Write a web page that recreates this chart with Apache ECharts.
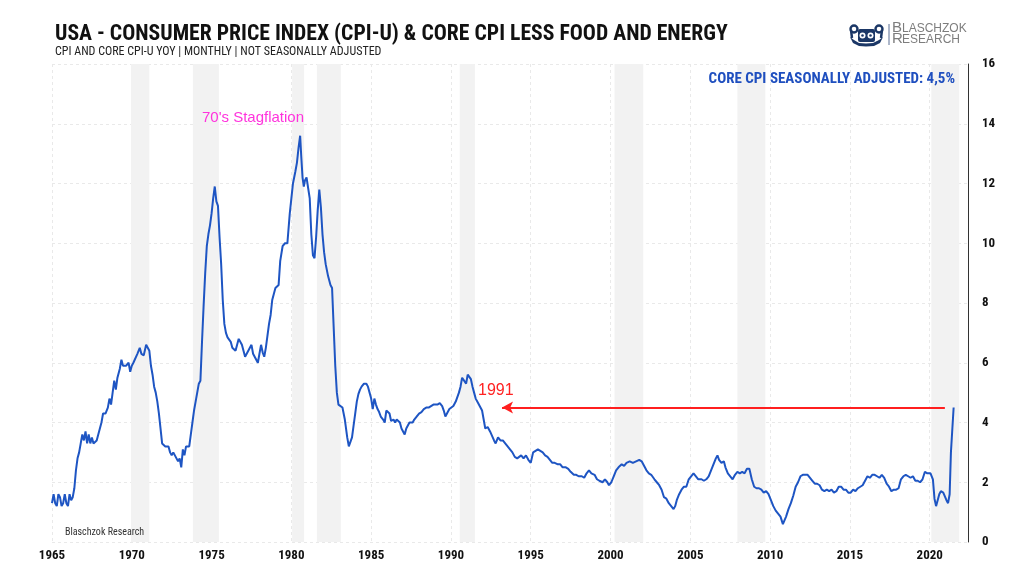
<!DOCTYPE html>
<html><head><meta charset="utf-8">
<script src="https://cdn.jsdelivr.net/npm/echarts/dist/echarts.min.js"></script>
<style>html,body{margin:0;padding:0;background:#fff}#c{width:1024px;height:576px}</style>
</head><body><div id="c"></div>
<script>
// ---- data ----
const years = [
1965.0,1965.1,1965.2,1965.3,1965.4,1965.5,1965.6,1965.7,1965.8,1965.9,
1966.0,1966.1,1966.2,1966.3,1966.4,1966.5,1966.6,1966.7,1966.8,1966.9,
1967.0,1967.1,1967.2,1967.3,1967.4,1967.5,1967.6,1967.7,1967.8,1967.9,
1968.0,1968.1,1968.2,1968.35,1968.5,1968.6,1968.7,1968.8,1968.9,
1969.0,1969.1,1969.25,1969.35,1969.45,1969.55,1969.65,1969.8,1969.9,
1970.0,1970.1,1970.2,1970.35,1970.5,1970.6,1970.75,1970.9,
1971.0,1971.1,1971.2,1971.3,1971.4,1971.5,1971.6,1971.7,1971.8,1971.9,
1972.0,1972.1,1972.2,1972.3,1972.4,1972.5,1972.6,1972.7,1972.8,1972.9,
1973.0,1973.1,1973.2,1973.3,1973.4,1973.5,1973.6,1973.7,1973.8,1973.9,
1974.0,1974.1,1974.2,1974.3,1974.4,1974.5,1974.6,1974.7,1974.8,1974.9,
1975.0,1975.1,1975.2,1975.3,1975.4,1975.5,1975.6,1975.7,1975.8,1975.9,
1976.0,1976.1,1976.2,1976.3,1976.4,1976.5,1976.6,1976.7,1976.8,1976.9,
1977.0,1977.1,1977.2,1977.3,1977.4,1977.5,1977.6,1977.7,1977.8,1977.9,
1978.0,1978.1,1978.2,1978.3,1978.4,1978.5,1978.6,1978.7,1978.8,1978.9,
1979.0,1979.1,1979.2,1979.3,1979.45,1979.6,1979.75,1979.9,
1980.0,1980.1,1980.25,1980.35,1980.45,1980.55,1980.62,1980.7,1980.78,1980.85,1980.95,
1981.05,1981.15,1981.25,1981.35,1981.45,1981.55,1981.65,1981.75,1981.85,1981.95,
1982.05,1982.15,1982.3,1982.45,1982.55,1982.65,1982.75,1982.85,1982.95,
1983.05,1983.2,1983.35,1983.5,1983.6,1983.7,1983.8,1983.9,
1984.0,1984.1,1984.2,1984.3,1984.4,1984.55,1984.7,1984.8,1984.9,
1985.0,1985.1,1985.2,1985.3,1985.4,1985.5,1985.6,1985.75,1985.85,1985.95,
1986.05,1986.15,1986.25,1986.4,1986.5,1986.6,1986.7,1986.8,1986.9,
1987.0,1987.1,1987.2,1987.3,1987.4,1987.5,1987.6,1987.7,1987.85,
1988.0,1988.15,1988.3,1988.45,1988.6,1988.75,1988.9,
1989.0,1989.15,1989.3,1989.45,1989.55,1989.65,1989.75,1989.9,
1990.0,1990.15,1990.3,1990.4,1990.5,1990.6,1990.7,1990.8,1990.95,
1991.05,1991.15,1991.25,1991.35,1991.45,1991.55,1991.7,1991.85,1991.95,
1992.05,1992.15,1992.3,1992.45,1992.55,1992.7,1992.8,1992.95,
1993.1,1993.25,1993.4,1993.55,1993.7,1993.85,
1994.0,1994.15,1994.25,1994.4,1994.55,1994.7,1994.85,
1995.0,1995.15,1995.3,1995.45,1995.6,1995.75,1995.9,
1996.05,1996.2,1996.35,1996.5,1996.7,1996.85,
1997.0,1997.2,1997.35,1997.5,1997.7,1997.85,
1998.0,1998.2,1998.35,1998.5,1998.65,1998.8,
1999.0,1999.15,1999.3,1999.5,1999.65,1999.8,1999.9,
2000.05,2000.2,2000.35,2000.5,2000.7,2000.85,
2001.0,2001.2,2001.4,2001.6,2001.8,2001.95,
2002.1,2002.25,2002.4,2002.55,2002.75,2002.9,
2003.05,2003.2,2003.35,2003.5,2003.65,2003.8,2003.95,
2004.05,2004.15,2004.3,2004.45,2004.6,2004.75,2004.9,
2005.05,2005.2,2005.35,2005.5,2005.7,2005.85,
2006.0,2006.15,2006.3,2006.45,2006.6,2006.7,2006.8,2006.95,
2007.1,2007.2,2007.35,2007.5,2007.65,2007.8,2007.95,
2008.1,2008.25,2008.4,2008.55,2008.7,2008.85,
2009.0,2009.15,2009.3,2009.45,2009.6,2009.75,2009.9,
2010.05,2010.2,2010.35,2010.5,2010.65,2010.8,2010.9,
2011.0,2011.15,2011.3,2011.45,2011.6,2011.75,2011.9,
2012.05,2012.2,2012.35,2012.5,2012.65,2012.8,2012.95,
2013.1,2013.25,2013.4,2013.55,2013.7,2013.85,
2014.0,2014.15,2014.3,2014.45,2014.6,2014.75,2014.9,
2015.05,2015.2,2015.35,2015.5,2015.65,2015.8,2015.95,
2016.1,2016.25,2016.4,2016.55,2016.7,2016.85,
2017.0,2017.15,2017.3,2017.45,2017.6,2017.75,2017.9,
2018.05,2018.2,2018.35,2018.5,2018.65,2018.8,2018.95,
2019.1,2019.25,2019.4,2019.55,2019.7,2019.85,2019.95,
2020.05,2020.2,2020.3,2020.4,2020.5,2020.6,2020.7,2020.85,2020.95,
2021.05,2021.15,2021.25,2021.33,2021.42,2021.5
];
const coreCpi = [
1.3,1.6,1.3,1.2,1.6,1.5,1.2,1.3,1.6,1.3,
1.2,1.6,1.4,1.5,1.8,2.4,2.8,3.0,3.3,3.6,
3.4,3.7,3.3,3.6,3.3,3.5,3.3,3.3,3.4,3.6,
3.8,4.0,4.3,4.3,4.5,4.8,4.6,5.0,5.4,
5.1,5.5,5.8,6.1,5.9,5.95,5.9,6.0,5.7,
5.9,6.0,6.0,6.3,6.5,6.3,6.25,6.6,
6.6,6.4,5.9,5.6,5.2,5.0,4.7,4.3,3.8,3.3,
3.3,3.2,3.25,3.2,3.0,2.9,3.0,3.0,2.8,2.7,
2.8,2.5,3.1,2.9,3.2,3.15,3.2,3.6,4.0,4.4,
4.7,5.0,5.3,5.4,6.7,7.9,9.0,9.9,10.3,10.6,
11.0,11.5,11.9,11.4,11.25,10.2,9.3,8.1,7.3,7.0,
6.85,6.8,6.7,6.5,6.45,6.4,6.6,6.8,6.75,6.6,
6.4,6.2,6.3,6.4,6.5,6.6,6.3,6.2,6.1,6.0,
6.3,6.6,6.35,6.2,6.5,6.9,7.3,7.6,8.1,8.3,
8.5,8.5,8.6,9.4,9.9,10.0,10.0,11.0,
11.5,12.0,12.4,12.7,13.2,13.6,12.9,12.2,11.9,12.1,12.2,
12.2,11.5,10.3,9.6,9.5,10.2,11.1,11.8,11.2,10.3,
9.7,9.3,8.9,8.6,8.5,7.2,5.9,5.0,4.6,
4.55,4.5,4.1,3.5,3.2,3.15,3.5,3.9,
4.3,4.7,4.95,5.1,5.2,5.3,5.3,5.2,5.0,
4.8,4.45,4.8,4.6,4.45,4.35,4.2,4.1,4.0,4.4,
4.45,4.3,4.05,4.1,4.0,4.1,4.15,4.0,3.8,
3.7,3.6,3.8,3.85,4.0,4.05,4.0,4.1,4.2,
4.3,4.35,4.45,4.5,4.5,4.55,4.6,
4.65,4.6,4.65,4.55,4.4,4.2,4.3,4.45,
4.5,4.55,4.7,4.85,5.0,5.2,5.5,5.45,5.3,
5.6,5.6,5.45,5.2,5.0,4.8,4.65,4.5,4.4,
4.1,3.8,3.85,3.7,3.65,3.4,3.3,3.5,
3.4,3.4,3.3,3.2,3.1,3.0,
2.85,2.8,2.75,2.9,2.8,2.9,2.75,
2.65,3.0,3.05,3.1,3.05,3.0,2.9,
2.85,2.75,2.65,2.65,2.6,2.6,
2.5,2.5,2.45,2.35,2.25,2.25,
2.2,2.2,2.15,2.3,2.4,2.3,
2.25,2.1,2.05,2.0,2.1,2.0,1.9,
2.0,2.2,2.4,2.5,2.6,2.55,
2.65,2.7,2.65,2.7,2.75,2.7,
2.55,2.4,2.3,2.25,2.1,2.0,
1.9,1.75,1.5,1.45,1.3,1.2,1.1,
1.2,1.4,1.6,1.75,1.85,1.85,2.1,
2.2,2.3,2.2,2.1,2.1,2.05,
2.1,2.2,2.4,2.6,2.8,2.9,2.75,2.65,
2.7,2.5,2.3,2.2,2.1,2.25,2.35,
2.3,2.35,2.3,2.45,2.45,2.1,
1.85,1.8,1.8,1.75,1.65,1.7,1.6,
1.4,1.2,1.05,0.95,0.85,0.6,0.65,
0.85,1.1,1.3,1.55,1.85,2.0,2.2,
2.25,2.25,2.25,2.15,2.05,1.95,1.95,
1.9,1.75,1.7,1.75,1.7,1.75,
1.65,1.7,1.85,1.85,1.75,1.75,1.65,
1.65,1.75,1.7,1.8,1.85,1.9,2.05,
2.2,2.15,2.25,2.25,2.2,2.15,
2.25,2.15,1.95,1.85,1.7,1.75,1.75,
1.8,2.1,2.2,2.25,2.2,2.15,2.2,
2.05,2.05,2.0,2.1,2.35,2.3,2.3,
2.3,2.1,1.45,1.2,1.25,1.6,1.7,1.65,1.6,
1.4,1.3,1.6,3.0,3.8,4.5
];
const recessionStarts = [1969.95,1973.83,1980.05,1981.6,1990.55,2000.25,2007.95,2020.1];
const recessionEnds   = [1971.1, 1975.46,1980.8, 1983.1,1991.5, 2002.05,2009.7, 2021.85];
const yTicks = {min:0, max:16, interval:2};
const xTicks = {min:1965, max:2022.4, interval:5};
const arrowFrom = [2020.95, 4.5];
const arrowTo   = [1993.2, 4.5];

// ---- chart ----
const NARROW = "'Liberation Sans Narrow','Roboto Condensed','DejaVu Sans Condensed',sans-serif";
const SANS = "'Liberation Sans',Arial,'Noto Sans',sans-serif";
const seriesData = years.map((y,i)=>[y, coreCpi[i]]);
const bands = recessionStarts.map((s,i)=>[{xAxis:s},{xAxis:recessionEnds[i]}]);

const chart = echarts.init(document.getElementById('c'), null, {renderer:'canvas'});
const navy = '#1b3766';
const G = (o)=>Object.assign({z:100}, o);
chart.setOption({
  animation:false,
  backgroundColor:'#fff',
  grid:{left:52,right:56,top:64,bottom:34},
  xAxis:{
    type:'value', min:xTicks.min, max:xTicks.max, interval:xTicks.interval,
    axisLine:{show:false}, axisTick:{show:false},
    axisLabel:{color:'#111',fontWeight:'bold',fontSize:13,fontFamily:NARROW,margin:7,
      showMaxLabel:false, formatter:v=>String(Math.round(v))},
    splitLine:{show:true,lineStyle:{color:'#e9e9e9',type:[3,3],width:1}}
  },
  yAxis:{
    type:'value', position:'right', min:yTicks.min, max:yTicks.max, interval:yTicks.interval,
    axisLine:{show:true,lineStyle:{color:'#333',width:1}}, axisTick:{show:false},
    axisLabel:{color:'#111',fontWeight:'bold',fontSize:13,fontFamily:NARROW,margin:14},
    splitLine:{show:true,lineStyle:{color:'#e9e9e9',type:[3,3],width:1}}
  },
  series:[{
    type:'line', data:seriesData, showSymbol:false, symbol:'none', smooth:false,
    lineStyle:{color:'#1e55c3',width:2}, z:5,
    markArea:{silent:true, itemStyle:{color:'#f2f2f2'}, data:bands},
    markLine:{silent:true, symbol:['none','arrow'], symbolSize:[9,11],
      lineStyle:{color:'#ff1f1f',width:2,type:'solid'}, label:{show:false},
      data:[[{coord:arrowFrom},{coord:arrowTo}]]}
  }],
  graphic:[
    G({type:'text', style:{text:'USA - CONSUMER PRICE INDEX (CPI-U) & CORE CPI LESS FOOD AND ENERGY',
      x:55,y:35,font:"bold 21.7px "+NARROW,fill:'#111',verticalAlign:'middle'}}),
    G({type:'text', style:{text:'CPI AND CORE CPI-U YOY | MONTHLY | NOT SEASONALLY ADJUSTED',
      x:55,y:52,font:"12px "+NARROW,fill:'#222',verticalAlign:'middle'}}),
    G({type:'text', style:{text:'CORE CPI SEASONALLY ADJUSTED: 4,5%',
      x:955,y:79,font:"bold 15px "+NARROW,fill:'#1f4fbf',align:'right',verticalAlign:'middle'}}),
    G({type:'text', style:{text:"70's Stagflation",x:253,y:118,font:"15px "+SANS,fill:'#ff33dd',
      align:'center',verticalAlign:'middle'}}),
    G({type:'text', style:{text:'1991',x:478,y:391,font:"16px "+SANS,fill:'#ff2222',verticalAlign:'middle'}}),
    G({type:'text', style:{text:'Blaschzok Research',x:65,y:532,font:"10px "+NARROW,fill:'#333',verticalAlign:'middle'}}),
    // logo
    G({type:'line', shape:{x1:889,y1:24,x2:889,y2:45}, style:{stroke:'#5a6f95',lineWidth:1}}),
    G({type:'text', style:{text:'B',x:892,y:35,font:"15px "+SANS,fill:'#7d7d7d',verticalAlign:'bottom'}}),
    G({type:'text', style:{text:'LASCHZOK',x:902,y:35,font:"12px "+SANS,fill:'#7d7d7d',verticalAlign:'bottom'}}),
    G({type:'text', style:{text:'R',x:892,y:46,font:"15px "+SANS,fill:'#7d7d7d',verticalAlign:'bottom'}}),
    G({type:'text', style:{text:'ESEARCH',x:902,y:46,font:"12px "+SANS,fill:'#7d7d7d',verticalAlign:'bottom'}}),
    G({type:'polygon', shape:{points:[[850,37],[853,43],[859,46],[866,46.5],[874,46],[880,43],[883,37],[879,40],[873,43],[866,43.5],[859,43],[854,40]]},
      style:{fill:navy}}),
    G({type:'circle', shape:{cx:854,cy:29,r:3.5}, style:{fill:'none',stroke:navy,lineWidth:2.4}}),
    G({type:'circle', shape:{cx:879,cy:29,r:3.5}, style:{fill:'none',stroke:navy,lineWidth:2.4}}),
    G({type:'line', shape:{x1:851,y1:30,x2:852,y2:38}, style:{stroke:navy,lineWidth:2.4}}),
    G({type:'line', shape:{x1:882,y1:30,x2:881,y2:38}, style:{stroke:navy,lineWidth:2.4}}),
    G({type:'rect', shape:{x:858,y:29,width:17,height:13,r:2}, style:{fill:navy}}),
    G({type:'circle', shape:{cx:862.5,cy:35.5,r:3}, style:{fill:'#fff'}}),
    G({type:'circle', shape:{cx:870.5,cy:35.5,r:3}, style:{fill:'#fff'}}),
    G({type:'circle', shape:{cx:862.5,cy:35.5,r:1.3}, style:{fill:navy}}),
    G({type:'circle', shape:{cx:870.5,cy:35.5,r:1.3}, style:{fill:navy}})
  ]
});
</script>
</body></html>
